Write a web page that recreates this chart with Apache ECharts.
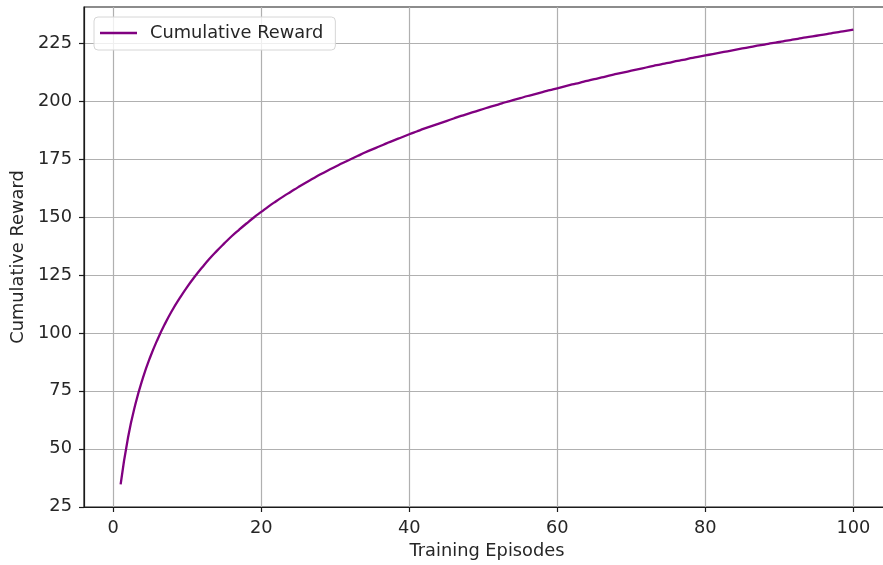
<!DOCTYPE html>
<html>
<head>
<meta charset="utf-8">
<script src="https://cdn.jsdelivr.net/npm/echarts@6/dist/echarts.min.js"></script>
<style>
html,body{margin:0;padding:0;background:#fff;overflow:hidden;}
#chart{width:883px;height:565px;}
</style>
</head>
<body>
<div id="chart"></div>
<script>
const seriesName = 'Cumulative Reward';
const xTitle = 'Training Episodes';
const yTitle = 'Cumulative Reward';
const xTicks = [0, 20, 40, 60, 80, 100];
const yTicks = [25, 50, 75, 100, 125, 150, 175, 200, 225];
const episodes = [];
for (let i = 1; i <= 100; i++) episodes.push(i);
const reward = [
  34.7, 54.9, 69.3, 80.5, 89.6, 97.3, 104.0, 109.9, 115.1, 119.9,
  124.2, 128.2, 132.0, 135.4, 138.6, 141.7, 144.5, 147.2, 149.8, 152.2,
  154.6, 156.8, 158.9, 160.9, 162.9, 164.8, 166.6, 168.4, 170.1, 171.7,
  173.3, 174.8, 176.3, 177.8, 179.2, 180.5, 181.9, 183.2, 184.4, 185.7,
  186.9, 188.1, 189.2, 190.3, 191.4, 192.5, 193.6, 194.6, 195.6, 196.6,
  197.6, 198.5, 199.5, 200.4, 201.3, 202.2, 203.0, 203.9, 204.7, 205.5,
  206.4, 207.2, 207.9, 208.7, 209.5, 210.2, 211.0, 211.7, 212.4, 213.1,
  213.8, 214.5, 215.2, 215.9, 216.5, 217.2, 217.8, 218.5, 219.1, 219.7,
  220.3, 220.9, 221.5, 222.1, 222.7, 223.3, 223.9, 224.4, 225.0, 225.5,
  226.1, 226.6, 227.2, 227.7, 228.2, 228.7, 229.2, 229.8, 230.3, 230.8
];

const FONT = 'DejaVu Sans';
const FS = 17.8;
const TXT = '#262626';
const chart = echarts.init(document.getElementById('chart'), null, {renderer: 'canvas'});
chart.setOption({
  animation: false,
  backgroundColor: '#ffffff',
  textStyle: {fontFamily: FONT},
  grid: {
    left: 84, top: 7, width: 806, height: 500,
    show: true, borderColor: '#1a1a1a', borderWidth: 1.2,
    containLabel: false, outerBoundsMode: 'none'
  },
  legend: {
    left: 94, top: 17,
    padding: [7, 12, 8, 6],
    itemWidth: 37, itemHeight: 18,
    backgroundColor: 'rgba(255,255,255,0.8)',
    borderColor: '#d6d6d6', borderWidth: 1, borderRadius: 4,
    textStyle: {fontFamily: FONT, fontSize: FS, color: TXT, padding: [0, 0, 0, 8]},
    data: [{name: seriesName, icon: 'path://M0,0 L37,0 L37,2.3 L0,2.3 Z'}]
  },
  xAxis: {
    type: 'value',
    min: -3.95, max: 104.95,
    name: xTitle, nameLocation: 'middle', nameGap: 35,
    nameTextStyle: {fontFamily: FONT, fontSize: FS, color: TXT},
    axisLine: {show: true, onZero: false, lineStyle: {color: '#1a1a1a', width: 1.2}},
    axisTick: {show: true, length: 5, lineStyle: {color: '#1a1a1a', width: 1.2}, customValues: xTicks},
    axisLabel: {fontFamily: FONT, fontSize: FS, color: TXT, margin: 12, customValues: xTicks},
    splitLine: {show: true, lineStyle: {color: '#b0b0b0', width: 1.2}, customValues: xTicks}
  },
  yAxis: {
    type: 'value',
    min: 24.9, max: 240.6,
    name: yTitle, nameLocation: 'middle', nameGap: 56,
    nameTextStyle: {fontFamily: FONT, fontSize: FS, color: TXT},
    axisLine: {show: true, onZero: false, lineStyle: {color: '#1a1a1a', width: 1.2}},
    axisTick: {show: true, length: 5, lineStyle: {color: '#1a1a1a', width: 1.2}, customValues: yTicks},
    axisLabel: {fontFamily: FONT, fontSize: FS, color: TXT, margin: 12, customValues: yTicks},
    splitLine: {show: true, lineStyle: {color: '#b0b0b0', width: 1.2}, customValues: yTicks}
  },
  series: [{
    name: seriesName,
    type: 'line',
    data: episodes.map((x, i) => [x, reward[i]]),
    symbol: 'none',
    smooth: true,
    lineStyle: {color: '#800080', width: 2.3},
    itemStyle: {color: '#800080'}
  }]
});
</script>
</body>
</html>
